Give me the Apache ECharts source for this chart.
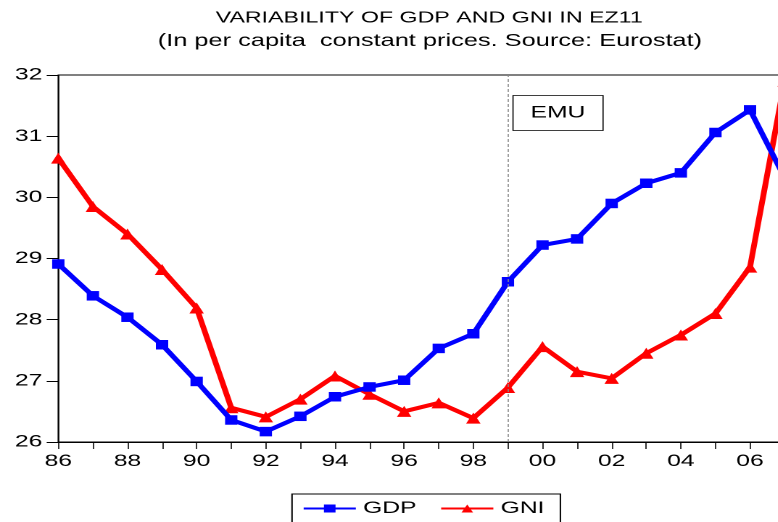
<!DOCTYPE html>
<html>
<head>
<meta charset="utf-8">
<script src="https://cdn.jsdelivr.net/npm/echarts@6/dist/echarts.min.js"></script>
<style>
  html, body { margin: 0; padding: 0; background: #fff; overflow: hidden; }
  /* the original picture is stretched sideways, so the chart is drawn narrow and widened */
  #chart { width: 552px; height: 522px; transform: scaleX(1.45); transform-origin: 0 0; }
</style>
</head>
<body>
<div id="chart"></div>
<script>
const years = ['86', '87', '88', '89', '90', '91', '92', '93', '94', '95', '96',
  '97', '98', '99', '00', '01', '02', '03', '04', '05', '06', '07']
const gdp = [28.91, 28.39, 28.04, 27.59, 26.99, 26.36, 26.17, 26.42, 26.74, 26.90, 27.01,
  27.53, 27.77, 28.62, 29.22, 29.32, 29.90, 30.23, 30.40, 31.06, 31.43, 30.32]
const gni = [30.64, 29.85, 29.40, 28.82, 28.19, 26.56, 26.41, 26.70, 27.08, 26.78, 26.50,
  26.64, 26.39, 26.89, 27.56, 27.15, 27.04, 27.45, 27.75, 28.10, 28.86, 31.90]
const emuYear = '99'

const font = 'Liberation Sans, Arial, sans-serif'
const chart = echarts.init(document.getElementById('chart'), null, { devicePixelRatio: 2 })

chart.setOption({
  animation: false,
  title: [
    {
      text: 'VARIABILITY OF GDP AND GNI IN EZ11',
      left: 291, top: 5, textAlign: 'center',
      textStyle: { fontFamily: font, fontSize: 16, fontWeight: 'normal', color: '#000' }
    },
    {
      text: '(In per capita  constant prices. Source: Eurostat)',
      left: 291.5, top: 27, textAlign: 'center',
      textStyle: { fontFamily: font, fontSize: 17.5, fontWeight: 'normal', color: '#000' }
    }
  ],
  legend: {
    left: 201.4, top: 494,
    borderColor: '#000', borderWidth: 1,
    padding: [6, 11, 7, 7],
    itemGap: 16,
    itemWidth: 36, itemHeight: 10,
    textStyle: { fontFamily: font, fontSize: 17, color: '#000' },
    data: ['GDP', 'GNI']
  },
  grid: {
    left: 40.2, right: 10.9, top: 75, bottom: 80,
    show: true, borderColor: '#000', borderWidth: 1
  },
  xAxis: {
    type: 'category',
    data: years,
    boundaryGap: false,
    axisLine: { lineStyle: { color: '#000', width: 1 } },
    axisTick: { interval: 0, length: 7, lineStyle: { color: '#000', width: 0.8 } },
    axisLabel: { interval: 1, fontFamily: font, fontSize: 17, color: '#000', margin: 11 },
    splitLine: { show: false }
  },
  yAxis: {
    type: 'value',
    min: 26, max: 32, interval: 1,
    axisLine: { show: true, lineStyle: { color: '#000', width: 0.8 } },
    axisTick: { show: true, length: 8, lineStyle: { color: '#000' } },
    axisLabel: { fontFamily: font, fontSize: 17, color: '#000', margin: 11 },
    splitLine: { show: false }
  },
  series: [
    {
      name: 'GDP',
      type: 'line',
      data: gdp,
      symbol: 'rect', symbolSize: [8.5, 9.5],
      lineStyle: { color: '#0000ff', width: 4 },
      itemStyle: { color: '#0000ff' },
      z: 3,
      markLine: {
        silent: true,
        symbol: 'none',
        label: { show: false },
        lineStyle: { color: '#888', type: [3, 2], width: 0.8 },
        data: [{ xAxis: emuYear }]
      }
    },
    {
      name: 'GNI',
      type: 'line',
      data: gni,
      symbol: 'triangle', symbolSize: [10, 11],
      lineStyle: { color: '#ff0000', width: 4 },
      itemStyle: { color: '#ff0000' },
      z: 2
    }
  ],
  graphic: [
    {
      type: 'rect',
      shape: { x: 353.8, y: 95.5, width: 62.1, height: 35 },
      style: { fill: '#fff', stroke: '#000', lineWidth: 0.8 }
    },
    {
      type: 'text',
      x: 384.8, y: 113,
      style: {
        text: 'EMU',
        fontFamily: font, fontSize: 17, fill: '#000',
        align: 'center', verticalAlign: 'middle'
      }
    }
  ]
})
</script>
</body>
</html>
